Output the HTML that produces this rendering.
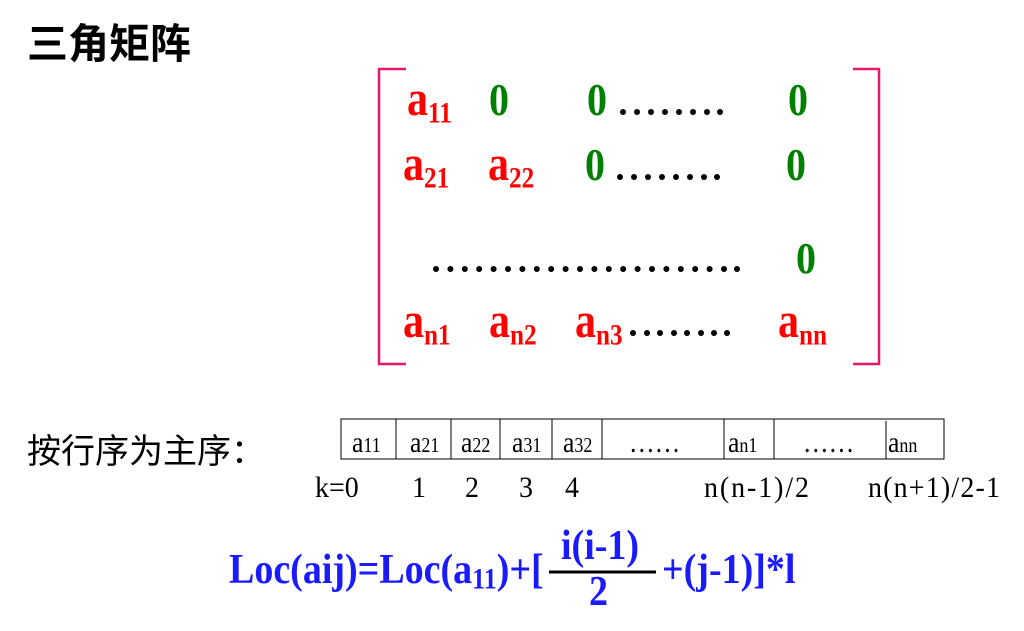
<!DOCTYPE html>
<html><head><meta charset="utf-8"><style>
html,body{margin:0;padding:0;background:#fff;}
svg{display:block;}
.s{font-family:"Liberation Serif",serif;font-weight:bold;}
.r{fill:#ff0000;}
.g{fill:#008000;}
.b{fill:#1a1aff;}
.cj{font-family:"Liberation Sans","Noto Sans CJK SC",sans-serif;}
.t{font-family:"Liberation Serif",serif;fill:#000;}
</style></head><body>
<svg width="1024" height="631" viewBox="0 0 1024 631" xmlns="http://www.w3.org/2000/svg">
<text x="27" y="58" class="cj" font-size="41" font-weight="bold" fill="#000">三角矩阵</text>

<polyline points="406,69 379,69 379,364 406,364" fill="none" stroke="#e6186e" stroke-width="2.5"/>
<polyline points="853,69 879,69 879,364 853,364" fill="none" stroke="#e6186e" stroke-width="2.5"/>

<g class="s" font-size="40">
<text transform="translate(407,115) scale(1.05,1.25)" class="r">a<tspan font-size="24" dy="6">11</tspan></text>
<text transform="translate(489,115) scale(1,1.15)" class="g">0</text>
<text transform="translate(587,115) scale(1,1.15)" class="g">0</text>
<text transform="translate(788,115) scale(1,1.15)" class="g">0</text>

<text transform="translate(403,180) scale(1.05,1.25)" class="r">a<tspan font-size="24" dy="6">21</tspan></text>
<text transform="translate(488,180) scale(1.05,1.25)" class="r">a<tspan font-size="24" dy="6">22</tspan></text>
<text transform="translate(585,180) scale(1,1.15)" class="g">0</text>
<text transform="translate(786,180) scale(1,1.15)" class="g">0</text>

<text transform="translate(796,273) scale(1,1.1)" class="g">0</text>

<text transform="translate(403,337) scale(1.05,1.25)" class="r">a<tspan font-size="24" dy="6">n1</tspan></text>
<text transform="translate(489,337) scale(1.05,1.25)" class="r">a<tspan font-size="24" dy="6">n2</tspan></text>
<text transform="translate(575,337) scale(1.05,1.25)" class="r">a<tspan font-size="24" dy="6">n3</tspan></text>
<text transform="translate(778,337) scale(1.05,1.25)" class="r">a<tspan font-size="24" dy="6">nn</tspan></text>
</g>

<g fill="#000">
<!-- row1 dots -->
<circle cx="623" cy="112" r="3"/><circle cx="637" cy="112" r="3"/><circle cx="651" cy="112" r="3"/><circle cx="665" cy="112" r="3"/><circle cx="679" cy="112" r="3"/><circle cx="693" cy="112" r="3"/><circle cx="707" cy="112" r="3"/><circle cx="720" cy="112" r="3"/>
<!-- row2 -->
<circle cx="620" cy="177" r="3"/><circle cx="634" cy="177" r="3"/><circle cx="648" cy="177" r="3"/><circle cx="662" cy="177" r="3"/><circle cx="676" cy="177" r="3"/><circle cx="690" cy="177" r="3"/><circle cx="704" cy="177" r="3"/><circle cx="717" cy="177" r="3"/>
<!-- row4 -->
<circle cx="633" cy="333" r="3"/><circle cx="647" cy="333" r="3"/><circle cx="660" cy="333" r="3"/><circle cx="674" cy="333" r="3"/><circle cx="687" cy="333" r="3"/><circle cx="701" cy="333" r="3"/><circle cx="714" cy="333" r="3"/><circle cx="727" cy="333" r="3"/>
</g>
<g fill="#000">
<circle cx="436" cy="269" r="3"/><circle cx="450.4" cy="269" r="3"/><circle cx="464.8" cy="269" r="3"/><circle cx="479.2" cy="269" r="3"/><circle cx="493.6" cy="269" r="3"/><circle cx="508" cy="269" r="3"/><circle cx="522.4" cy="269" r="3"/><circle cx="536.8" cy="269" r="3"/><circle cx="551.2" cy="269" r="3"/><circle cx="565.6" cy="269" r="3"/><circle cx="580" cy="269" r="3"/><circle cx="594.4" cy="269" r="3"/><circle cx="608.8" cy="269" r="3"/><circle cx="623.2" cy="269" r="3"/><circle cx="637.6" cy="269" r="3"/><circle cx="652" cy="269" r="3"/><circle cx="666.4" cy="269" r="3"/><circle cx="680.8" cy="269" r="3"/><circle cx="695.2" cy="269" r="3"/><circle cx="709.6" cy="269" r="3"/><circle cx="724" cy="269" r="3"/><circle cx="737" cy="269" r="3"/>
</g>

<text x="27" y="463" class="cj" font-size="34" fill="#000">按行序为主序：</text>

<rect x="341" y="419" width="603" height="40" fill="none" stroke="#000" stroke-width="1"/>
<g stroke="#000" stroke-width="1">
<line x1="396" y1="419" x2="396" y2="459"/>
<line x1="451" y1="419" x2="451" y2="459"/>
<line x1="500" y1="419" x2="500" y2="459"/>
<line x1="552" y1="419" x2="552" y2="459"/>
<line x1="602" y1="419" x2="602" y2="459"/>
<line x1="724" y1="419" x2="724" y2="459"/>
<line x1="774" y1="419" x2="774" y2="459"/>
<line x1="886" y1="421" x2="886" y2="459"/>
</g>
<g class="t" font-size="27">
<text transform="translate(352,452) scale(0.95,1.1)">a<tspan font-size="19">11</tspan></text>
<text transform="translate(410,452) scale(0.95,1.1)">a<tspan font-size="19">21</tspan></text>
<text transform="translate(461,452) scale(0.95,1.1)">a<tspan font-size="19">22</tspan></text>
<text transform="translate(512,452) scale(0.95,1.1)">a<tspan font-size="19">31</tspan></text>
<text transform="translate(563,452) scale(0.95,1.1)">a<tspan font-size="19">32</tspan></text>
<text transform="translate(629,452) scale(0.95,1.1)">……</text>
<text transform="translate(728,452) scale(0.95,1.1)">a<tspan font-size="19">n1</tspan></text>
<text transform="translate(803,452) scale(0.95,1.1)">……</text>
<text transform="translate(888,452) scale(0.95,1.1)">a<tspan font-size="19">nn</tspan></text>
</g>
<g class="t" font-size="28">
<text transform="translate(315,497) scale(1,1.05)">k=0</text>
<text transform="translate(412,497) scale(1,1.05)">1</text>
<text transform="translate(465,497) scale(1,1.05)">2</text>
<text transform="translate(519,497) scale(1,1.05)">3</text>
<text transform="translate(565,497) scale(1,1.05)">4</text>
<text transform="translate(704,497) scale(1,1.05)" textLength="105">n(n-1)/2</text>
<text transform="translate(868,497) scale(1,1.05)" textLength="132">n(n+1)/2-1</text>
</g>

<g class="s b" font-size="38">
<text transform="translate(229,583) scale(1,1.12)">Loc(aij)=Loc(a<tspan font-size="26" dy="5">11</tspan><tspan dy="-5">)+[</tspan></text>
<text transform="translate(561,559) scale(1,1.12)">i(i-1)</text>
<text transform="translate(589,605) scale(1,1.12)">2</text>
<text transform="translate(662,583) scale(1,1.12)">+(j-1)]*l</text>
</g>
<line x1="549" y1="572" x2="656" y2="572" stroke="#000" stroke-width="3"/>
</svg>
</body></html>
